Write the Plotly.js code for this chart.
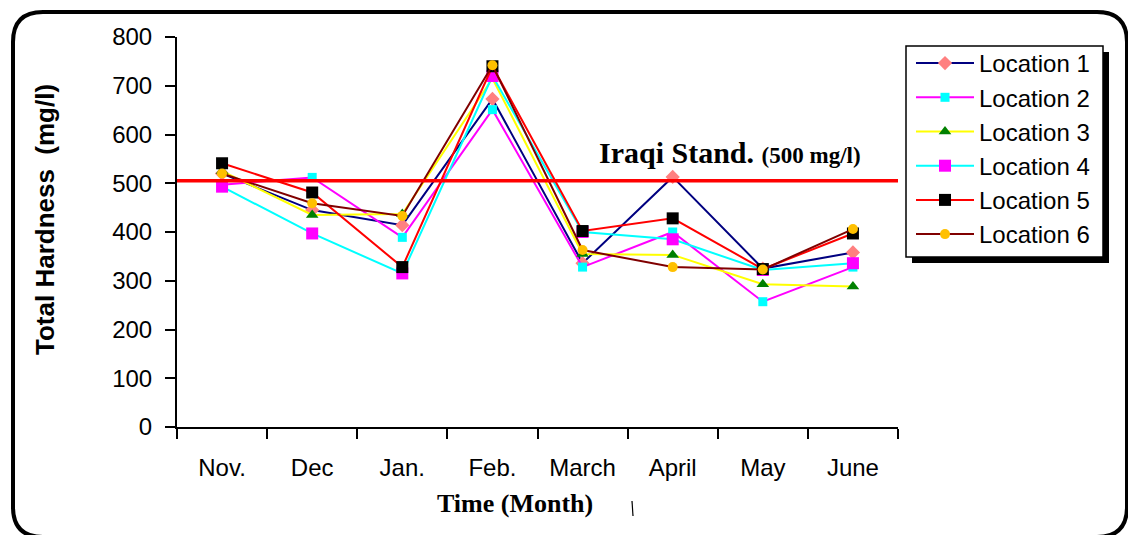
<!DOCTYPE html>
<html>
<head>
<meta charset="utf-8">
<script src="https://cdn.plot.ly/plotly-3.0.1.min.js"></script>
<style>
  html, body { margin: 0; padding: 0; background: #ffffff; }
  #chart { width: 1128px; height: 535px; }
</style>
</head>
<body>
<div id="chart"></div>
<script>
// ---- data ----
const months = ["Nov.", "Dec", "Jan.", "Feb.", "March", "April", "May", "June"];
const seriesNames = ["Location 1", "Location 2", "Location 3", "Location 4", "Location 5", "Location 6"];
const location1 = [520, 445, 414, 673, 336, 513, 325, 358];
const location2 = [497, 512, 389, 651, 328, 400, 257, 328];
const location3 = [525, 435, 437, 715, 355, 353, 293, 288];
const location4 = [493, 397, 315, 720, 400, 385, 322, 336];
const location5 = [541, 481, 328, 740, 402, 428, 324, 397];
const location6 = [520, 459, 433, 742, 363, 328, 323, 406];
const standardValue = 505;
const yTicks = [0, 100, 200, 300, 400, 500, 600, 700, 800];

// ---- styles ----
const lineColors = ["#000080", "#FF00FF", "#FFFF00", "#00FFFF", "#FF0000", "#800000"];
const markerColors = ["#FF8080", "#00FFFF", "#008000", "#FF00FF", "#000000", "#FFC000"];
const markerSymbols = ["diamond", "square", "triangle-up", "square", "square", "circle"];
const markerSizes = [11, 9, 11, 12, 12, 10];
const allSeries = [location1, location2, location3, location4, location5, location6];

const traces = allSeries.map((vals, i) => ({
  type: "scatter",
  mode: "lines+markers",
  name: seriesNames[i],
  x: months,
  y: vals,
  line: { color: lineColors[i], width: 2 },
  marker: { color: markerColors[i], symbol: markerSymbols[i], size: markerSizes[i], line: { width: 0 } },
  cliponaxis: false
}));

// standard line
traces.push({
  type: "scatter",
  mode: "lines",
  x: [-0.5, 7.5],
  y: [standardValue, standardValue],
  xaxis: "x2",
  line: { color: "#FF0000", width: 3.5 },
  showlegend: false,
  hoverinfo: "skip"
});

// pixel -> paper helpers
const L = 177, R = 898, T = 37, B = 427;
const PX = X => (X - L) / (R - L);
const PY = Y => (B - Y) / (B - T);

function roundRectPath(x0, y0, x1, y1, r) {
  const p = (X, Y) => PX(X) + "," + PY(Y);
  return "M" + p(x0 + r, y0) + " L" + p(x1 - r, y0) + " Q" + p(x1, y0) + " " + p(x1, y0 + r) +
         " L" + p(x1, y1 - r) + " Q" + p(x1, y1) + " " + p(x1 - r, y1) +
         " L" + p(x0 + r, y1) + " Q" + p(x0, y1) + " " + p(x0, y1 - r) +
         " L" + p(x0, y0 + r) + " Q" + p(x0, y0) + " " + p(x0 + r, y0) + " Z";
}

const shapes = [
  { type: "path", xref: "paper", yref: "paper", path: roundRectPath(13, 12, 1127, 537, 30),
    line: { color: "#000000", width: 4 }, layer: "below" },
  // legend shadow
  { type: "rect", xref: "paper", yref: "paper", x0: PX(912), x1: PX(1109), y0: PY(52), y1: PY(263),
    fillcolor: "#000000", line: { width: 0 }, layer: "above" },
  // legend box
  { type: "rect", xref: "paper", yref: "paper", x0: PX(906), x1: PX(1103), y0: PY(46), y1: PY(257),
    fillcolor: "#FFFFFF", line: { color: "#000000", width: 1.5 }, layer: "above" },
  // stray mark
  { type: "line", xref: "paper", yref: "paper", x0: PX(632), x1: PX(633), y0: PY(501), y1: PY(516),
    line: { color: "#000000", width: 1.2 } }
];

const layout = {
  width: 1128, height: 535,
  margin: { l: L, r: 1128 - R, t: T, b: 535 - B },
  paper_bgcolor: "#FFFFFF", plot_bgcolor: "#FFFFFF",
  font: { family: "Liberation Sans, Arial, sans-serif", color: "#000000" },
  showlegend: true,
  legend: {
    x: PX(911), y: PY(41), xanchor: "left", yanchor: "top",
    bgcolor: "rgba(0,0,0,0)", borderwidth: 0,
    font: { size: 24, color: "#000000", family: "Liberation Sans, Arial, sans-serif" },
    itemwidth: 58, tracegroupgap: 0
  },
  xaxis: {
    type: "category", range: [-0.5, 7.5], fixedrange: true,
    showline: true, linecolor: "#000000", linewidth: 2,
    ticks: "outside", ticklen: 10, tickwidth: 2, tickcolor: "#000000", tickson: "boundaries",
    showgrid: false, zeroline: false,
    tickfont: { size: 24, family: "Liberation Sans, Arial, sans-serif" },
    ticklabelstandoff: 18
  },
  xaxis2: { overlaying: "x", range: [-0.5, 7.5], visible: false, fixedrange: true },
  yaxis: {
    range: [0, 800], tickvals: yTicks, fixedrange: true,
    showline: true, linecolor: "#000000", linewidth: 2,
    ticks: "outside", ticklen: 10, tickwidth: 2, tickcolor: "#000000",
    showgrid: false, zeroline: false,
    tickfont: { size: 24, family: "Liberation Sans, Arial, sans-serif" },
    ticklabelstandoff: 8
  },
  shapes: shapes,
  annotations: [
    { xref: "paper", yref: "paper", x: PX(45), y: PY(220), text: "<b>Total Hardness  (mg/l)</b>",
      textangle: -90, showarrow: false, xanchor: "center", yanchor: "middle",
      font: { size: 26, family: "Liberation Sans, Arial, sans-serif", color: "#000000" } },
    { xref: "paper", yref: "paper", x: PX(515), y: PY(503), text: "<b>Time (Month)</b>",
      showarrow: false, xanchor: "center", yanchor: "middle",
      font: { size: 26, family: "Liberation Serif, Times New Roman, serif", color: "#000000" } },
    { xref: "paper", yref: "paper", x: PX(730), y: PY(152),
      text: "<b>Iraqi Stand.</b> <b><span style='font-size:23px'>(500 mg/l)</span></b>",
      showarrow: false, xanchor: "center", yanchor: "middle",
      font: { size: 30, family: "Liberation Serif, Times New Roman, serif", color: "#000000" } }
  ]
};

Plotly.newPlot("chart", traces, layout, { displayModeBar: false, staticPlot: true });
</script>
</body>
</html>
